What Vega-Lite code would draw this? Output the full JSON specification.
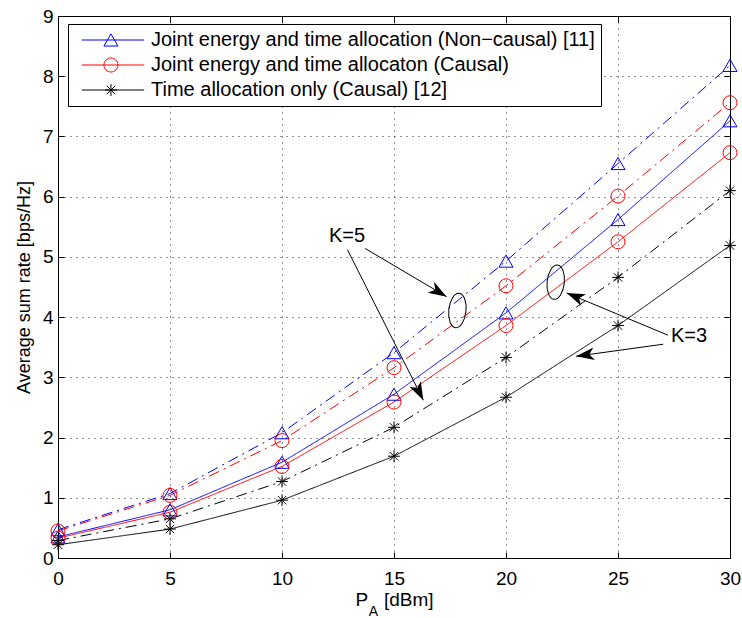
{
  "$schema": "https://vega.github.io/schema/vega-lite/v6.json",
  "width": 672,
  "height": 542,
  "autosize": "none",
  "padding": {"left": 58, "top": 16, "right": 12, "bottom": 60},
  "background": "white",
  "config": {
    "font": "Liberation Sans",
    "view": {"stroke": "black", "strokeWidth": 1},
    "axis": {
      "domain": false,
      "tickColor": "black",
      "tickSize": -6,
      "tickWidth": 1,
      "labelColor": "black",
      "labelFont": "Liberation Sans",
      "labelFontSize": 19,
      "titleFont": "Liberation Sans",
      "titleFontWeight": "normal",
      "titleColor": "black",
      "gridColor": "#000000",
      "gridDash": [1, 5],
      "gridWidth": 1,
      "gridOpacity": 0.85
    },
    "legend": {
      "labelFont": "Liberation Sans",
      "labelColor": "black"
    }
  },
  "datasets": {
    "rates": [
      {"method": "Joint energy and time allocation (Non\u2212causal) [11]", "K": "K=3", "P": 0, "rate": 0.35},
      {"method": "Joint energy and time allocation (Non\u2212causal) [11]", "K": "K=3", "P": 5, "rate": 0.80},
      {"method": "Joint energy and time allocation (Non\u2212causal) [11]", "K": "K=3", "P": 10, "rate": 1.59},
      {"method": "Joint energy and time allocation (Non\u2212causal) [11]", "K": "K=3", "P": 15, "rate": 2.72},
      {"method": "Joint energy and time allocation (Non\u2212causal) [11]", "K": "K=3", "P": 20, "rate": 4.07},
      {"method": "Joint energy and time allocation (Non\u2212causal) [11]", "K": "K=3", "P": 25, "rate": 5.62},
      {"method": "Joint energy and time allocation (Non\u2212causal) [11]", "K": "K=3", "P": 30, "rate": 7.26},
      {"method": "Joint energy and time allocation (Non\u2212causal) [11]", "K": "K=5", "P": 0, "rate": 0.47},
      {"method": "Joint energy and time allocation (Non\u2212causal) [11]", "K": "K=5", "P": 5, "rate": 1.07},
      {"method": "Joint energy and time allocation (Non\u2212causal) [11]", "K": "K=5", "P": 10, "rate": 2.08},
      {"method": "Joint energy and time allocation (Non\u2212causal) [11]", "K": "K=5", "P": 15, "rate": 3.41},
      {"method": "Joint energy and time allocation (Non\u2212causal) [11]", "K": "K=5", "P": 20, "rate": 4.93},
      {"method": "Joint energy and time allocation (Non\u2212causal) [11]", "K": "K=5", "P": 25, "rate": 6.55},
      {"method": "Joint energy and time allocation (Non\u2212causal) [11]", "K": "K=5", "P": 30, "rate": 8.18},
      {"method": "Joint energy and time allocaton (Causal)", "K": "K=3", "P": 0, "rate": 0.33},
      {"method": "Joint energy and time allocaton (Causal)", "K": "K=3", "P": 5, "rate": 0.76},
      {"method": "Joint energy and time allocaton (Causal)", "K": "K=3", "P": 10, "rate": 1.52},
      {"method": "Joint energy and time allocaton (Causal)", "K": "K=3", "P": 15, "rate": 2.59},
      {"method": "Joint energy and time allocaton (Causal)", "K": "K=3", "P": 20, "rate": 3.86},
      {"method": "Joint energy and time allocaton (Causal)", "K": "K=3", "P": 25, "rate": 5.25},
      {"method": "Joint energy and time allocaton (Causal)", "K": "K=3", "P": 30, "rate": 6.73},
      {"method": "Joint energy and time allocaton (Causal)", "K": "K=5", "P": 0, "rate": 0.45},
      {"method": "Joint energy and time allocaton (Causal)", "K": "K=5", "P": 5, "rate": 1.04},
      {"method": "Joint energy and time allocaton (Causal)", "K": "K=5", "P": 10, "rate": 1.95},
      {"method": "Joint energy and time allocaton (Causal)", "K": "K=5", "P": 15, "rate": 3.16},
      {"method": "Joint energy and time allocaton (Causal)", "K": "K=5", "P": 20, "rate": 4.52},
      {"method": "Joint energy and time allocaton (Causal)", "K": "K=5", "P": 25, "rate": 6.01},
      {"method": "Joint energy and time allocaton (Causal)", "K": "K=5", "P": 30, "rate": 7.56},
      {"method": "Time allocation only (Causal) [12]", "K": "K=3", "P": 0, "rate": 0.22},
      {"method": "Time allocation only (Causal) [12]", "K": "K=3", "P": 5, "rate": 0.48},
      {"method": "Time allocation only (Causal) [12]", "K": "K=3", "P": 10, "rate": 0.96},
      {"method": "Time allocation only (Causal) [12]", "K": "K=3", "P": 15, "rate": 1.69},
      {"method": "Time allocation only (Causal) [12]", "K": "K=3", "P": 20, "rate": 2.67},
      {"method": "Time allocation only (Causal) [12]", "K": "K=3", "P": 25, "rate": 3.86},
      {"method": "Time allocation only (Causal) [12]", "K": "K=3", "P": 30, "rate": 5.19},
      {"method": "Time allocation only (Causal) [12]", "K": "K=5", "P": 0, "rate": 0.29},
      {"method": "Time allocation only (Causal) [12]", "K": "K=5", "P": 5, "rate": 0.65},
      {"method": "Time allocation only (Causal) [12]", "K": "K=5", "P": 10, "rate": 1.27},
      {"method": "Time allocation only (Causal) [12]", "K": "K=5", "P": 15, "rate": 2.17},
      {"method": "Time allocation only (Causal) [12]", "K": "K=5", "P": 20, "rate": 3.33},
      {"method": "Time allocation only (Causal) [12]", "K": "K=5", "P": 25, "rate": 4.66},
      {"method": "Time allocation only (Causal) [12]", "K": "K=5", "P": 30, "rate": 6.10}
    ],
    "arrows": [
      {"x": 13.71, "y": 5.14, "x2": 17.35, "y2": 4.34},
      {"x": 12.92, "y": 5.12, "x2": 16.31, "y2": 2.62},
      {"x": 27.23, "y": 3.70, "x2": 22.71, "y2": 4.40},
      {"x": 27.02, "y": 3.55, "x2": 23.13, "y2": 3.35}
    ],
    "ellipses": [
      {"x": 17.83, "y": 4.11},
      {"x": 22.22, "y": 4.58}
    ],
    "labels": [
      {"x": 12.90, "y": 5.34, "text": "K=5"},
      {"x": 28.17, "y": 3.68, "text": "K=3"}
    ],
    "sub": [
      {"x": 14.08, "y": -0.90, "text": "A"}
    ]
  },
  "layer": [
    {
      "data": {"name": "rates"},
      "mark": {"type": "line", "strokeWidth": 1},
      "encoding": {
        "x": {
          "field": "P", "type": "quantitative",
          "scale": {"domain": [0, 30], "nice": false, "zero": false},
          "axis": {"orient": "bottom", "values": [0, 5, 10, 15, 20, 25, 30], "grid": true, "labelPadding": 17, "labelFlush": false, "title": "P\u00a0\u00a0\u00a0[dBm]", "titleFontSize": 19, "titlePadding": 2}
        },
        "y": {
          "field": "rate", "type": "quantitative",
          "scale": {"domain": [0, 9], "nice": false, "zero": false},
          "axis": {"orient": "left", "values": [0, 1, 2, 3, 4, 5, 6, 7, 8, 9], "grid": true, "labelPadding": 11, "labelFlush": false, "title": "Average sum rate [bps/Hz]", "titleFontSize": 18, "titlePadding": 9}
        },
        "stroke": {
          "field": "method", "type": "nominal",
          "scale": {"range": ["#0000ff", "#ff0000", "#000000"]},
          "legend": null
        },
        "strokeDash": {
          "field": "K", "type": "nominal",
          "scale": {"domain": ["K=3", "K=5"], "range": [[1, 0], [11, 5, 2, 5]]},
          "legend": null
        }
      }
    },
    {
      "data": {"name": "rates"},
      "mark": {"type": "point", "filled": false, "size": 196, "strokeWidth": 1, "opacity": 1},
      "encoding": {
        "x": {
          "field": "P", "type": "quantitative",
          "scale": {"domain": [0, 30], "nice": false, "zero": false},
          "axis": {"orient": "top", "values": [0, 5, 10, 15, 20, 25, 30], "grid": false, "labels": false, "title": null}
        },
        "y": {
          "field": "rate", "type": "quantitative",
          "scale": {"domain": [0, 9], "nice": false, "zero": false},
          "axis": {"orient": "right", "values": [0, 1, 2, 3, 4, 5, 6, 7, 8, 9], "grid": false, "labels": false, "title": null}
        },
        "color": {
          "field": "method", "type": "nominal",
          "scale": {"domain": ["Joint energy and time allocation (Non\u2212causal) [11]", "Joint energy and time allocaton (Causal)", "Time allocation only (Causal) [12]"], "range": ["#0000ff", "#ff0000", "#000000"]},
          "legend": {
            "orient": "none", "legendX": 10, "legendY": 8, "title": null,
            "padding": 6, "rowPadding": 5, "symbolSize": 196, "labelOffset": 57,
            "labelFontSize": 20, "labelLimit": 0, "strokeColor": "black", "fillColor": "white",
            "symbolStrokeWidth": 1,
            "symbolType": {"expr": "indexof(datum.value, 'Non') >= 0 ? 'M-0.3,0L8.6,0M3.85,-0.866L2.85,0.866L4.85,0.866Z' : indexof(datum.value, 'allocaton') >= 0 ? 'M-0.3,0L8.6,0M2.85,0A1,1,0,1,1,4.85,0A1,1,0,1,1,2.85,0' : 'M-0.3,0L8.6,0M3.0,0L4.7,0M3.85,-0.85L3.85,0.85M3.25,-0.6L4.45,0.6M3.25,0.6L4.45,-0.6'"}
          }
        },
        "shape": {
          "field": "method", "type": "nominal",
          "scale": {"range": ["triangle-up", "circle", "M-0.85,0L0.85,0M0,-0.85L0,0.85M-0.6,-0.6L0.6,0.6M-0.6,0.6L0.6,-0.6"]},
          "legend": null
        }
      }
    },
    {
      "data": {"name": "arrows"},
      "mark": {"type": "rule", "color": "black", "strokeWidth": 1},
      "encoding": {
        "x": {"field": "x", "type": "quantitative", "scale": {"domain": [0, 30], "nice": false, "zero": false}, "axis": null},
        "y": {"field": "y", "type": "quantitative", "scale": {"domain": [0, 9], "nice": false, "zero": false}, "axis": null},
        "x2": {"field": "x2"},
        "y2": {"field": "y2"}
      }
    },
    {
      "data": {"name": "arrows"},
      "transform": [
        {"calculate": "atan2(-(datum.y2 - datum.y) * 60.22, (datum.x2 - datum.x) * 22.4) * 180 / PI", "as": "ang"}
      ],
      "mark": {"type": "point", "filled": true, "color": "black", "opacity": 1, "size": 196, "shape": "M0,0L-2.6,-0.9L-1.9,0L-2.6,0.9Z"},
      "encoding": {
        "x": {"field": "x2", "type": "quantitative", "scale": {"domain": [0, 30], "nice": false, "zero": false}, "axis": null},
        "y": {"field": "y2", "type": "quantitative", "scale": {"domain": [0, 9], "nice": false, "zero": false}, "axis": null},
        "angle": {"field": "ang", "type": "quantitative", "scale": null}
      }
    },
    {
      "data": {"name": "ellipses"},
      "mark": {"type": "point", "filled": false, "color": "black", "opacity": 1, "strokeWidth": 1, "size": 1190, "angle": 6, "shape": "M0,-1A0.5,1,0,1,1,0,1A0.5,1,0,1,1,0,-1"},
      "encoding": {
        "x": {"field": "x", "type": "quantitative", "scale": {"domain": [0, 30], "nice": false, "zero": false}, "axis": null},
        "y": {"field": "y", "type": "quantitative", "scale": {"domain": [0, 9], "nice": false, "zero": false}, "axis": null}
      }
    },
    {
      "data": {"name": "labels"},
      "mark": {"type": "text", "font": "Liberation Sans", "fontSize": 20, "color": "black", "align": "center", "baseline": "middle"},
      "encoding": {
        "x": {"field": "x", "type": "quantitative", "scale": {"domain": [0, 30], "nice": false, "zero": false}, "axis": null},
        "y": {"field": "y", "type": "quantitative", "scale": {"domain": [0, 9], "nice": false, "zero": false}, "axis": null},
        "text": {"field": "text"}
      }
    },
    {
      "data": {"name": "sub"},
      "mark": {"type": "text", "font": "Liberation Sans", "fontSize": 14, "color": "black", "align": "center", "baseline": "middle"},
      "encoding": {
        "x": {"field": "x", "type": "quantitative", "scale": {"domain": [0, 30], "nice": false, "zero": false}, "axis": null},
        "y": {"field": "y", "type": "quantitative", "scale": {"domain": [0, 9], "nice": false, "zero": false}, "axis": null},
        "text": {"field": "text"}
      }
    }
  ],
  "resolve": {"axis": {"x": "independent", "y": "independent"}}
}
